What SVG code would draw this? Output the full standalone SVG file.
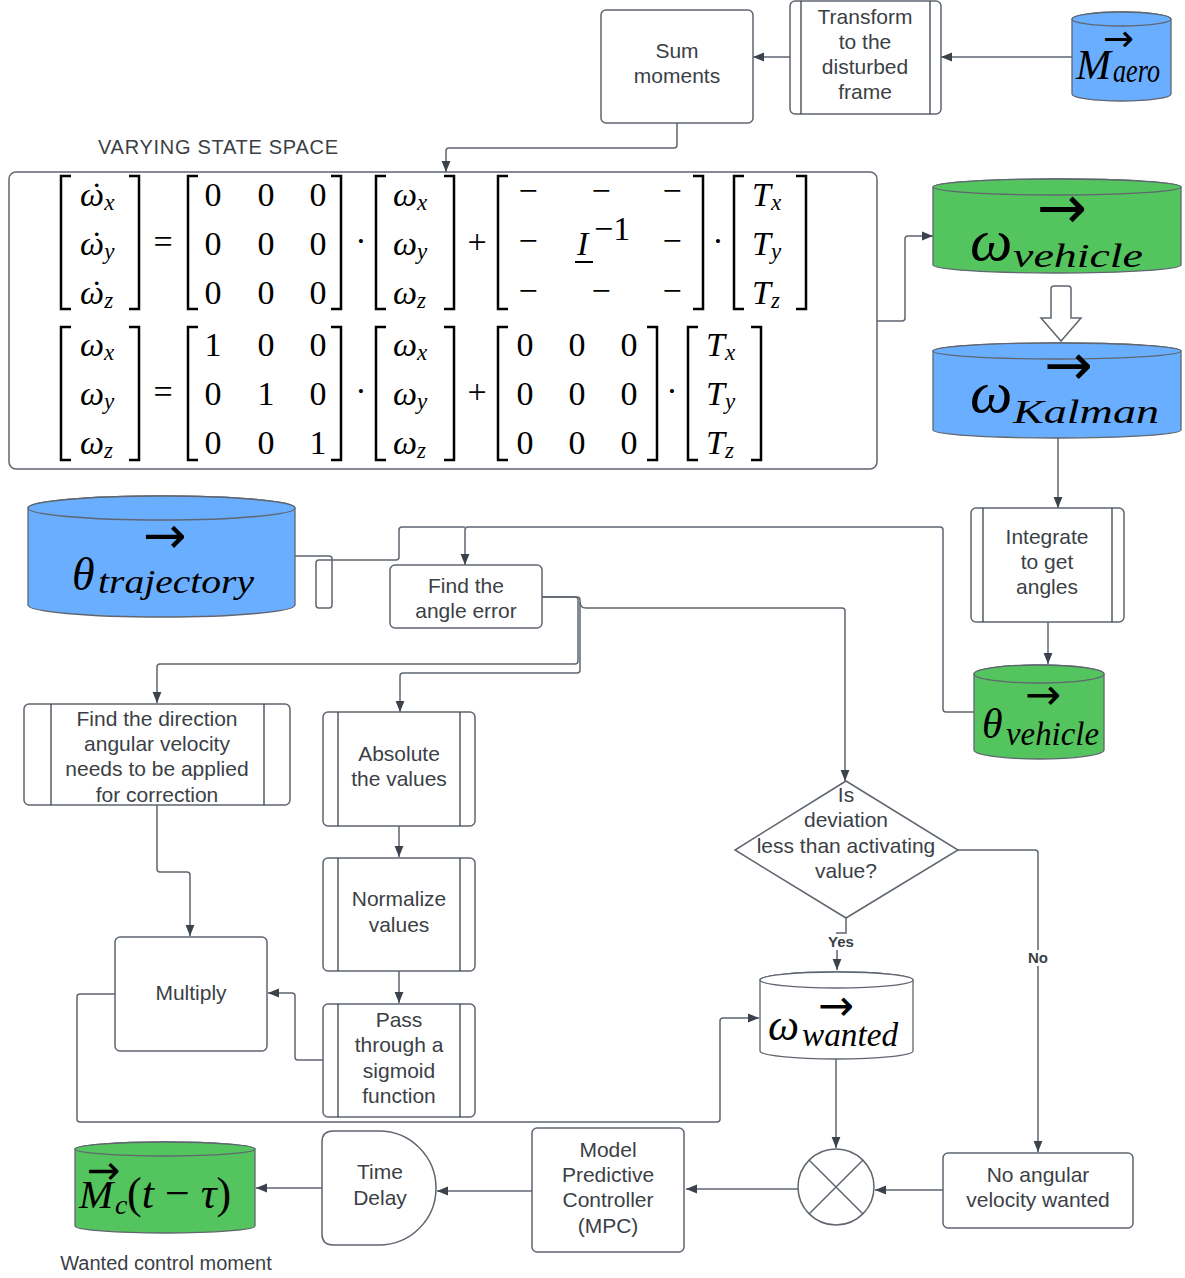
<svg xmlns="http://www.w3.org/2000/svg" width="1185" height="1278" viewBox="0 0 1185 1278">
<defs>
<marker id="ah" viewBox="0 0 10 10" refX="10" refY="5" markerWidth="11" markerHeight="11" orient="auto" markerUnits="userSpaceOnUse">
<path d="M0,1 L10,5 L0,9 Z" fill="#3b424c"/>
</marker>
<style>
.n{fill:#fff;stroke:#5f6670;stroke-width:1.5}
.il{stroke:#3b424c;stroke-width:1.3}
.c{fill:none;stroke:#5f6670;stroke-width:1.5}
.ca{fill:none;stroke:#5f6670;stroke-width:1.5;marker-end:url(#ah)}
.t{font-family:"Liberation Sans",Arial,sans-serif;font-size:21px;fill:#3b3f46;text-anchor:middle}
.lb{font-family:"Liberation Sans",Arial,sans-serif;font-size:15px;font-weight:bold;fill:#3b3f46;text-anchor:middle}
.m{font-family:"Liberation Serif","DejaVu Serif",serif;font-size:34px;fill:#000}
.mi{font-family:"Liberation Serif","DejaVu Serif",serif;font-size:34px;font-style:italic;fill:#000}
.mc{text-anchor:middle}
.ar{font-family:"DejaVu Sans",sans-serif;font-style:normal;fill:#000}
.br{fill:none;stroke:#000;stroke-width:2.5}
.blue{fill:#6aaeff;stroke:#5f6670;stroke-width:1.3}
.green{fill:#54c45e;stroke:#5f6670;stroke-width:1.3}
.white{fill:#fff;stroke:#5f6670;stroke-width:1.3}
</style>
</defs>
<rect width="1185" height="1278" fill="#fff"/>

<g id="connectors">
<path class="ca" d="M1072,57 H941"/>
<path class="ca" d="M790,57 H753"/>
<path class="ca" d="M677,123 V145 q0,3 -3,3 H449 q-3,0 -3,3 V172"/>
<path class="ca" d="M877,321 H902 q3,0 3,-3 V239 q0,-3 3,-3 H933"/>
<path class="ca" d="M1058,436 V508"/>
<path class="ca" d="M1048,622 V664"/>
<path class="ca" d="M974,712 H946 q-3,0 -3,-3 V530 q0,-3 -3,-3 H468 q-3,0 -3,3 V565"/>
<path class="c" d="M295,556 H329 q3,0 3,3 V605 q0,3 -3,3 H319 q-3,0 -3,-3 V563 q0,-3 3,-3 H396 q3,0 3,-3 V530 q0,-3 3,-3 H465"/>
<path class="ca" d="M542,597 H575 q3,0 3,3 V661 q0,3 -3,3 H160 q-3,0 -3,3 V703"/>
<path class="ca" d="M542,597 H577 q3,0 3,3 V670 q0,3 -3,3 H403 q-3,0 -3,3 V712"/>
<path class="ca" d="M580,602 q0,6 6,6 H842 q3,0 3,3 V781"/>
<path class="ca" d="M399,826 V857"/>
<path class="ca" d="M399,971 V1003"/>
<path class="ca" d="M323,1060 H298 q-3,0 -3,-3 V996 q0,-3 -3,-3 H268"/>
<path class="ca" d="M157,805 V869 q0,3 3,3 H187 q3,0 3,3 V936"/>
<path class="ca" d="M115,994 H80 q-3,0 -3,3 V1119 q0,3 3,3 H717 q3,0 3,-3 V1021 q0,-3 3,-3 H759"/>
<path class="ca" d="M846,918 V933 H837 V970"/>
<path class="ca" d="M958,850 H1035 q3,0 3,3 V1152"/>
<path class="ca" d="M836,1059 V1148"/>
<path class="ca" d="M943,1190 H875"/>
<path class="ca" d="M798,1189 H686"/>
<path class="ca" d="M532,1191 H437"/>
<path class="ca" d="M322,1188 H256"/>
<rect x="824" y="934" width="34" height="16" fill="#fff"/>
<text class="lb" x="841" y="947">Yes</text>
<rect x="1024" y="950" width="28" height="16" fill="#fff"/>
<text class="lb" x="1038" y="963">No</text>
</g>

<g id="sum-moments">
<rect class="n" x="601" y="10" width="152" height="113" rx="5"/>
<text class="t" x="677" y="58">Sum</text>
<text class="t" x="677" y="83">moments</text>
</g>

<g id="transform">
<rect class="n" x="790" y="1" width="151" height="113" rx="5"/>
<line class="il" x1="801" y1="1" x2="801" y2="114"/>
<line class="il" x1="930" y1="1" x2="930" y2="114"/>
<text class="t" x="865" y="24">Transform</text>
<text class="t" x="865" y="49">to the</text>
<text class="t" x="865" y="74">disturbed</text>
<text class="t" x="865" y="99">frame</text>
</g>

<g id="m-aero">
<path class="blue" d="M1072,19 A49.5,7 0 0 1 1171,19 V94 A49.5,7 0 0 1 1072,94 Z"/>
<ellipse class="blue" cx="1121.5" cy="19" rx="49.5" ry="7"/>
<text class="mi"><tspan class="ar" x="1103" y="51" font-size="37">→</tspan><tspan x="1076" y="79" font-size="42">M</tspan></text>
<text class="mi" x="1113" y="82" font-size="24" textLength="47" lengthAdjust="spacingAndGlyphs">aero</text>
</g>

<text x="98" y="154" font-family="Liberation Sans,Arial,sans-serif" font-size="20" fill="#3b3f46" textLength="240" lengthAdjust="spacing">VARYING STATE SPACE</text>

<g id="state-space">
<rect class="n" x="9" y="172" width="868" height="297" rx="7"/>
<path class="br" d="M71,176 H61 V309 H71 M129,176 H139 V309 H129"/>
<path class="br" d="M198,176 H188 V309 H198 M331,176 H341 V309 H331"/>
<path class="br" d="M386,176 H376 V309 H386 M444,176 H454 V309 H444"/>
<path class="br" d="M508,176 H498 V309 H508 M693,176 H703 V309 H693"/>
<path class="br" d="M744,176 H734 V309 H744 M796,176 H806 V309 H796"/>
<path class="br" d="M71,327 H61 V460 H71 M129,327 H139 V460 H129"/>
<path class="br" d="M198,327 H188 V460 H198 M331,327 H341 V460 H331"/>
<path class="br" d="M386,327 H376 V460 H386 M444,327 H454 V460 H444"/>
<path class="br" d="M508,327 H498 V460 H508 M647,327 H657 V460 H647"/>
<path class="br" d="M698,327 H688 V460 H698 M751,327 H761 V460 H751"/>
<text class="mi" x="80" y="206">ω<tspan dx="-13" font-style="normal">˙</tspan><tspan dx="2" dy="4" font-size="23">x</tspan></text>
<text class="mi" x="80" y="255">ω<tspan dx="-13" font-style="normal">˙</tspan><tspan dx="2" dy="4" font-size="23">y</tspan></text>
<text class="mi" x="80" y="304">ω<tspan dx="-13" font-style="normal">˙</tspan><tspan dx="2" dy="4" font-size="23">z</tspan></text>
<text class="m mc" x="163" y="253">=</text>
<text class="m mc" x="213" y="206">0</text><text class="m mc" x="266" y="206">0</text><text class="m mc" x="318" y="206">0</text>
<text class="m mc" x="213" y="255">0</text><text class="m mc" x="266" y="255">0</text><text class="m mc" x="318" y="255">0</text>
<text class="m mc" x="213" y="304">0</text><text class="m mc" x="266" y="304">0</text><text class="m mc" x="318" y="304">0</text>
<text class="m mc" x="361" y="252">·</text>
<text class="mi" x="393" y="206">ω<tspan font-size="23" dy="4">x</tspan></text>
<text class="mi" x="393" y="255">ω<tspan font-size="23" dy="4">y</tspan></text>
<text class="mi" x="393" y="304">ω<tspan font-size="23" dy="4">z</tspan></text>
<text class="m mc" x="477" y="253">+</text>
<text class="m mc" x="528" y="202">−</text><text class="m mc" x="601" y="202">−</text><text class="m mc" x="672" y="202">−</text>
<text class="m mc" x="528" y="252">−</text><text class="m mc" x="672" y="252">−</text>
<text class="m mc" x="528" y="302">−</text><text class="m mc" x="601" y="302">−</text><text class="m mc" x="672" y="302">−</text>
<text class="mi" x="577" y="255">I</text>
<text class="m" x="594" y="240" font-size="23">−1</text>
<line x1="575" y1="262" x2="593" y2="262" stroke="#000" stroke-width="2"/>
<text class="m mc" x="718" y="252">·</text>
<text class="mi" x="752" y="206">T<tspan font-size="23" dy="4">x</tspan></text>
<text class="mi" x="752" y="255">T<tspan font-size="23" dy="4">y</tspan></text>
<text class="mi" x="752" y="304">T<tspan font-size="23" dy="4">z</tspan></text>
<text class="mi" x="80" y="356">ω<tspan font-size="23" dy="4">x</tspan></text>
<text class="mi" x="80" y="405">ω<tspan font-size="23" dy="4">y</tspan></text>
<text class="mi" x="80" y="454">ω<tspan font-size="23" dy="4">z</tspan></text>
<text class="m mc" x="163" y="403">=</text>
<text class="m mc" x="213" y="356">1</text><text class="m mc" x="266" y="356">0</text><text class="m mc" x="318" y="356">0</text>
<text class="m mc" x="213" y="405">0</text><text class="m mc" x="266" y="405">1</text><text class="m mc" x="318" y="405">0</text>
<text class="m mc" x="213" y="454">0</text><text class="m mc" x="266" y="454">0</text><text class="m mc" x="318" y="454">1</text>
<text class="m mc" x="361" y="402">·</text>
<text class="mi" x="393" y="356">ω<tspan font-size="23" dy="4">x</tspan></text>
<text class="mi" x="393" y="405">ω<tspan font-size="23" dy="4">y</tspan></text>
<text class="mi" x="393" y="454">ω<tspan font-size="23" dy="4">z</tspan></text>
<text class="m mc" x="477" y="403">+</text>
<text class="m mc" x="525" y="356">0</text><text class="m mc" x="577" y="356">0</text><text class="m mc" x="629" y="356">0</text>
<text class="m mc" x="525" y="405">0</text><text class="m mc" x="577" y="405">0</text><text class="m mc" x="629" y="405">0</text>
<text class="m mc" x="525" y="454">0</text><text class="m mc" x="577" y="454">0</text><text class="m mc" x="629" y="454">0</text>
<text class="m mc" x="672" y="402">·</text>
<text class="mi" x="706" y="356">T<tspan font-size="23" dy="4">x</tspan></text>
<text class="mi" x="706" y="405">T<tspan font-size="23" dy="4">y</tspan></text>
<text class="mi" x="706" y="454">T<tspan font-size="23" dy="4">z</tspan></text>
</g>

<g id="omega-vehicle">
<path class="green" d="M933,187 A124,8 0 0 1 1181,187 V265 A124,8 0 0 1 933,265 Z"/>
<ellipse class="green" cx="1057" cy="187" rx="124" ry="8"/>
<text class="mi"><tspan class="ar" x="1037" y="228" font-size="60">→</tspan><tspan x="970" y="260" font-size="60">ω</tspan></text>
<text class="mi" x="1013" y="267" font-size="42" textLength="130" lengthAdjust="spacingAndGlyphs">vehicle</text>
</g>

<path id="block-arrow" class="n" d="M1051,289 q0,-3 3,-3 h14 q3,0 3,3 V318 H1081 L1061,341 L1041,318 H1051 Z"/>

<g id="omega-kalman">
<path class="blue" d="M933,351 A124,8 0 0 1 1181,351 V430 A124,8 0 0 1 933,430 Z"/>
<ellipse class="blue" cx="1057" cy="351" rx="124" ry="8"/>
<text class="mi"><tspan class="ar" x="1044" y="385" font-size="58">→</tspan><tspan x="970" y="412" font-size="60">ω</tspan></text>
<text class="mi" x="1013" y="423" font-size="40" textLength="146" lengthAdjust="spacingAndGlyphs">Kalman</text>
</g>

<g id="integrate">
<rect class="n" x="971" y="508" width="153" height="114" rx="5"/>
<line class="il" x1="983" y1="508" x2="983" y2="622"/>
<line class="il" x1="1112" y1="508" x2="1112" y2="622"/>
<text class="t" x="1047" y="544">Integrate</text>
<text class="t" x="1047" y="569">to get</text>
<text class="t" x="1047" y="594">angles</text>
</g>

<g id="theta-vehicle">
<path class="green" d="M974,674 A65,9 0 0 1 1104,674 V750 A65,9 0 0 1 974,750 Z"/>
<ellipse class="green" cx="1039" cy="674" rx="65" ry="9"/>
<text class="mi"><tspan class="ar" x="1025" y="709" font-size="43">→</tspan><tspan x="982" y="738" font-size="42">θ</tspan></text>
<text class="mi" x="1006" y="745" font-size="36" textLength="93" lengthAdjust="spacingAndGlyphs">vehicle</text>
</g>

<g id="theta-trajectory">
<path class="blue" d="M28,508 A133.5,12 0 0 1 295,508 V605 A133.5,12 0 0 1 28,605 Z"/>
<ellipse class="blue" cx="161.5" cy="508" rx="133.5" ry="12"/>
<text class="mi"><tspan class="ar" x="143" y="553" font-size="52">→</tspan><tspan x="72" y="590" font-size="46">θ</tspan></text>
<text class="mi" x="98" y="593" font-size="38" textLength="156" lengthAdjust="spacingAndGlyphs">trajectory</text>
</g>

<g id="angle-error">
<rect class="n" x="390" y="565" width="152" height="63" rx="5"/>
<text class="t" x="466" y="593">Find the</text>
<text class="t" x="466" y="618">angle error</text>
</g>

<g id="find-direction">
<rect class="n" x="24" y="704" width="266" height="101" rx="5"/>
<line class="il" x1="51" y1="704" x2="51" y2="805"/>
<line class="il" x1="264" y1="704" x2="264" y2="805"/>
<text class="t" x="157" y="726">Find the direction</text>
<text class="t" x="157" y="751">angular velocity</text>
<text class="t" x="157" y="776">needs to be applied</text>
<text class="t" x="157" y="802">for correction</text>
</g>

<g id="absolute">
<rect class="n" x="323" y="712" width="152" height="114" rx="5"/>
<line class="il" x1="338" y1="712" x2="338" y2="826"/>
<line class="il" x1="460" y1="712" x2="460" y2="826"/>
<text class="t" x="399" y="761">Absolute</text>
<text class="t" x="399" y="786">the values</text>
</g>

<g id="normalize">
<rect class="n" x="323" y="858" width="152" height="113" rx="5"/>
<line class="il" x1="338" y1="858" x2="338" y2="971"/>
<line class="il" x1="460" y1="858" x2="460" y2="971"/>
<text class="t" x="399" y="906">Normalize</text>
<text class="t" x="399" y="932">values</text>
</g>

<g id="sigmoid">
<rect class="n" x="323" y="1004" width="152" height="113" rx="5"/>
<line class="il" x1="338" y1="1004" x2="338" y2="1117"/>
<line class="il" x1="460" y1="1004" x2="460" y2="1117"/>
<text class="t" x="399" y="1027">Pass</text>
<text class="t" x="399" y="1052">through a</text>
<text class="t" x="399" y="1078">sigmoid</text>
<text class="t" x="399" y="1103">function</text>
</g>

<g id="multiply">
<rect class="n" x="115" y="937" width="152" height="114" rx="5"/>
<text class="t" x="191" y="1000">Multiply</text>
</g>

<g id="decision">
<path class="n" d="M846,781 L958,850 L846,918 L735,850 Z"/>
<text class="t" x="846" y="802">Is</text>
<text class="t" x="846" y="827">deviation</text>
<text class="t" x="846" y="853">less than activating</text>
<text class="t" x="846" y="878">value?</text>
</g>

<g id="omega-wanted">
<path class="white" d="M760,980 A76.5,8 0 0 1 913,980 V1051 A76.5,8 0 0 1 760,1051 Z"/>
<ellipse class="white" cx="836.5" cy="980" rx="76.5" ry="8"/>
<text class="mi"><tspan class="ar" x="818" y="1020" font-size="43">→</tspan><tspan x="768" y="1040" font-size="44">ω</tspan></text>
<text class="mi" x="802" y="1046" font-size="32" textLength="96" lengthAdjust="spacingAndGlyphs">wanted</text>
</g>

<g id="combiner">
<circle class="n" cx="836" cy="1187" r="38"/>
<path class="c" d="M809,1160 L863,1214 M863,1160 L809,1214"/>
</g>

<g id="no-angular">
<rect class="n" x="943" y="1153" width="190" height="75" rx="5"/>
<text class="t" x="1038" y="1182">No angular</text>
<text class="t" x="1038" y="1207">velocity wanted</text>
</g>

<g id="mpc">
<rect class="n" x="532" y="1128" width="152" height="124" rx="5"/>
<text class="t" x="608" y="1157">Model</text>
<text class="t" x="608" y="1182">Predictive</text>
<text class="t" x="608" y="1207">Controller</text>
<text class="t" x="608" y="1233">(MPC)</text>
</g>

<g id="time-delay">
<path class="n" d="M333,1131 H379 A57,57 0 0 1 379,1245 H333 q-11,0 -11,-11 V1142 q0,-11 11,-11 Z"/>
<text class="t" x="380" y="1179">Time</text>
<text class="t" x="380" y="1205">Delay</text>
</g>

<g id="m-c">
<path class="green" d="M75,1149 A90,7 0 0 1 255,1149 V1226 A90,7 0 0 1 75,1226 Z"/>
<ellipse class="green" cx="165" cy="1149" rx="90" ry="7"/>
<text class="mi"><tspan class="ar" x="87" y="1184" font-size="40">→</tspan><tspan x="79" y="1208" font-size="41">M</tspan><tspan x="115" y="1214" font-size="28">c</tspan><tspan x="127" y="1208" font-style="normal" font-size="44">(</tspan><tspan font-size="44">t</tspan><tspan font-style="normal" font-size="44"> − </tspan><tspan font-size="44">τ</tspan><tspan font-style="normal" font-size="44">)</tspan></text>
</g>
<text x="166" y="1270" font-family="Liberation Sans,Arial,sans-serif" font-size="20" fill="#3b3f46" text-anchor="middle">Wanted control moment</text>
</svg>
